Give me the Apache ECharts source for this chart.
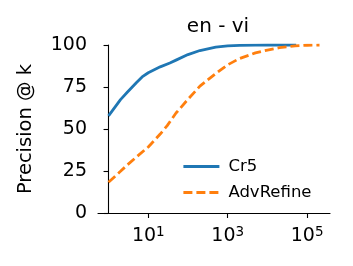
<!DOCTYPE html>
<html><head><meta charset="utf-8">
<script src="https://cdn.jsdelivr.net/npm/echarts@6/dist/echarts.min.js"></script>
<style>html,body{margin:0;padding:0;background:#fff}#c{width:353px;height:266px}</style>
</head><body><div id="c"></div>
<script>
const title = "en - vi";
const yLabel = "Precision @ k";
const seriesNames = ["Cr5", "AdvRefine"];
const cr5K = [1, 2, 3, 5, 7, 10, 20, 35, 50, 100, 200, 500, 1000, 2000, 5000, 10000, 20000, 53000];
const cr5P = [57.8, 67.5, 72, 77.5, 81, 83.5, 87, 89.3, 91, 94.3, 96.7, 98.7, 99.5, 99.8, 99.95, 100, 100, 100];
const advK = [1, 2, 3, 5, 10, 20, 30, 50, 100, 200, 500, 1000, 2000, 5000, 10000, 20000, 50000, 100000, 205000];
const advP = [18.3, 24.8, 28.7, 33.3, 39.3, 47, 52, 59.5, 67.7, 75.5, 83, 88.2, 92, 95.3, 97, 98.4, 99.5, 99.85, 100];
const xTickExp = [1, 3, 5];

const toPts = (ks, ps) => ks.map((k, i) => [Math.log10(k), ps[i]]);
const font = 'DejaVu Sans';
const chart = echarts.init(document.getElementById('c'), null, {renderer: 'canvas'});
chart.setOption({
  animation: false,
  backgroundColor: '#fff',
  title: {text: title, left: 213, top: 12, textAlign: 'center',
    textStyle: {fontFamily: font, fontSize: 20, fontWeight: 'normal', color: '#000'}},
  grid: {left: 98, right: 23, top: 45, bottom: 53},
  legend: {orient: 'vertical', left: 177, top: 153, itemWidth: 36, itemHeight: 14, itemGap: 9,
    itemStyle: {opacity: 0},
    textStyle: {fontFamily: font, fontSize: 16.5, color: '#000', padding: [0, 0, 0, 4]},
    data: [
      {name: seriesNames[0], lineStyle: {width: 2.8, type: 'solid'}},
      {name: seriesNames[1], lineStyle: {width: 2.8, type: [9, 4]}}
    ]},
  xAxis: {type: 'value', min: -0.2655, max: 5.576,
    axisLine: {lineStyle: {color: '#000', width: 1.1}},
    axisTick: {show: true, length: 5, lineStyle: {color: '#000', width: 1.1}, customValues: xTickExp},
    axisLabel: {customValues: xTickExp, margin: 12, color: '#000', fontFamily: font,
      formatter: v => '{b|10}{s|' + Math.round(v) + '}',
      rich: {b: {fontFamily: font, fontSize: 19, color: '#000'},
             s: {fontFamily: font, fontSize: 13.5, color: '#000', padding: [0, 0, 9, 0]}}},
    splitLine: {show: false}},
  yAxis: {type: 'value', min: 0, max: 100, interval: 25,
    name: yLabel, nameLocation: 'middle', nameGap: 62, nameRotate: 90,
    nameTextStyle: {fontFamily: font, fontSize: 19.5, color: '#000'},
    axisLine: {show: true, lineStyle: {color: '#000', width: 1.1}},
    axisTick: {show: true, length: 5, lineStyle: {color: '#000', width: 1.1}},
    axisLabel: {margin: 11, color: '#000', fontFamily: font, fontSize: 19},
    splitLine: {show: false}},
  series: [
    {name: seriesNames[0], type: 'line', symbol: 'none', data: toPts(cr5K, cr5P),
      lineStyle: {color: '#1f77b4', width: 2.8}, itemStyle: {color: '#1f77b4'}},
    {name: seriesNames[1], type: 'line', symbol: 'none', data: toPts(advK, advP),
      lineStyle: {color: '#ff7f0e', width: 2.8, type: [9, 4]}, itemStyle: {color: '#ff7f0e'}}
  ]
});
</script></body></html>
